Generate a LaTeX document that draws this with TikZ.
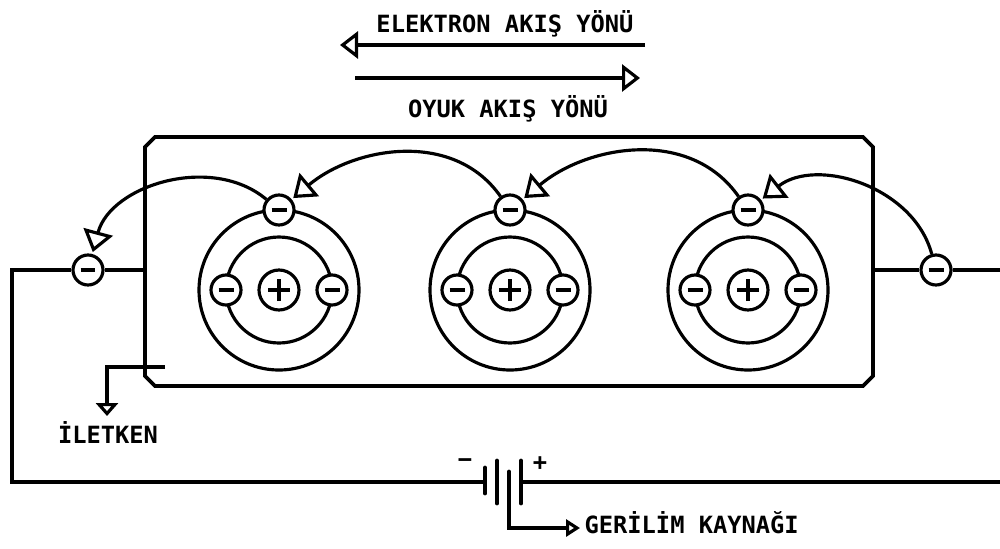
\documentclass[tikz,border=0pt]{standalone}
\usepackage{fontspec}
\newfontfamily\cadfont{DejaVu Sans Mono}
\usetikzlibrary{arrows.meta,calc}

\begin{document}
\begin{tikzpicture}[
        x=0.02cm, y=-0.02cm,
        line width=1.8pt,
        % electrons and nuclei carry their sign as a small drawn stroke
        elec/.style={circle, draw, fill=white, minimum size=0.6cm, inner sep=0pt,
            path picture={\draw[line width=1.8pt]
                ($(path picture bounding box.center)+(-0.15cm,0cm)$) --
                ($(path picture bounding box.center)+(0.15cm,0cm)$);}},
        nucleus/.style={circle, draw, fill=white, minimum size=0.8cm, inner sep=0pt,
            path picture={\draw[line width=1.8pt]
                ($(path picture bounding box.center)+(-0.22cm,0cm)$) --
                ($(path picture bounding box.center)+(0.22cm,0cm)$)
                ($(path picture bounding box.center)+(0cm,-0.22cm)$) --
                ($(path picture bounding box.center)+(0cm,0.22cm)$);}},
        hop/.style={-{Triangle[open, length=0.42cm, width=0.6cm]}, shorten >=0.04cm},
        flow/.style={-{Triangle[open, length=0.36cm, width=0.54cm]}},
        lead/.style={-{Triangle[open, length=0.28cm, width=0.34cm]}},
        plate/.style={line width=2.8pt, line cap=round},
        lbl/.style={font=\cadfont\bfseries\fontsize{13.5}{16}\selectfont, inner sep=0pt}
    ]
        \useasboundingbox (0,0) rectangle (1000,548);

        % flow direction arrows
        \node[lbl, anchor=base] (eflow) at (505,32) {ELEKTRON AKIŞ YÖNÜ};
        \coordinate (eflowR) at (645,45);
        \coordinate (eflowL) at (340,45);
        \draw[flow] (eflowR) -- (eflowL);
        \coordinate (hflowL) at (355,78);
        \coordinate (hflowR) at (640,78);
        \draw[flow] (hflowL) -- (hflowR);
        \node[lbl, anchor=base] (hflow) at (508,117) {OYUK AKIŞ YÖNÜ};

        % conductor body
        \draw[line width=2.1pt] (155,137) -- (863,137) -- (873,147) -- (873,376)
            -- (863,386) -- (155,386) -- (145,376) -- (145,147) -- cycle;
        \coordinate (condW) at (145,270);
        \coordinate (condE) at (873,270);

        % atoms
        \node[nucleus] (nucA) at (279,290) {};
        \node[nucleus] (nucB) at (510,290) {};
        \node[nucleus] (nucC) at (748,290) {};
        \draw (nucA) circle[radius=80] (nucA) circle[radius=53];
        \draw (nucB) circle[radius=80] (nucB) circle[radius=53];
        \draw (nucC) circle[radius=80] (nucC) circle[radius=53];
        \node[elec] (leftA) at (226,290) {};
        \node[elec] (rightA) at (332,290) {};
        \node[elec] (topA) at (279,210) {};
        \node[elec] (leftB) at (457,290) {};
        \node[elec] (rightB) at (563,290) {};
        \node[elec] (topB) at (510,210) {};
        \node[elec] (leftC) at (695,290) {};
        \node[elec] (rightC) at (801,290) {};
        \node[elec] (topC) at (748,210) {};

        % free electrons on the wire
        \node[elec] (wireL) at (88,270) {};
        \node[elec] (wireR) at (936,270) {};

        % electron hops
        \draw[hop] (topA) to[out=140, in=75] (wireL);
        \draw[hop] (topB) to[out=125, in=40] (topA);
        \draw[hop] (topC) to[out=125, in=40] (topB);
        \draw[hop] (wireR) to[out=105, in=38] (topC);

        % ground lead
        \coordinate (gndIn) at (165,367);
        \coordinate (gndEnd) at (107,416);
        \draw[-{Triangle[open, length=0.26cm, width=0.44cm]}] (gndIn) -| (gndEnd);
        \node[lbl, anchor=base] (cond) at (108,443) {İLETKEN};

        % circuit wiring
        \coordinate (loopSW) at (12,482);
        \coordinate (batNeg) at (483,482);
        \coordinate (batPos) at (521,482);
        \coordinate (loopNE) at (1000,270);
        \coordinate (loopSE) at (1000,482);
        \draw[line width=2pt] (condW) -- (wireL);
        \draw[line width=2pt] (wireL) -| (loopSW) -- (batNeg);
        \draw[line width=2pt] (condE) -- (wireR) -- (loopNE);
        \draw[line width=2pt] (batPos) -- (loopSE);

        % battery
        \draw[plate] (485,468) -- (485,493);
        \draw[plate] (497,461) -- (497,503);
        \draw[plate] (509,472) -- (509,500);
        \draw[plate] (521,461) -- (521,503);
        \node[lbl] (minusSign) at (465,463) {−};
        \node[lbl] (plusSign) at (540,464) {+};
        \coordinate (batMid) at (509,500);
        \coordinate (supplyTip) at (580,528);
        \draw[lead] (batMid) |- (supplyTip);
        \node[lbl, anchor=base west] (supply) at (583,533) {GERİLİM KAYNAĞI};
    \end{tikzpicture}
\end{document}
